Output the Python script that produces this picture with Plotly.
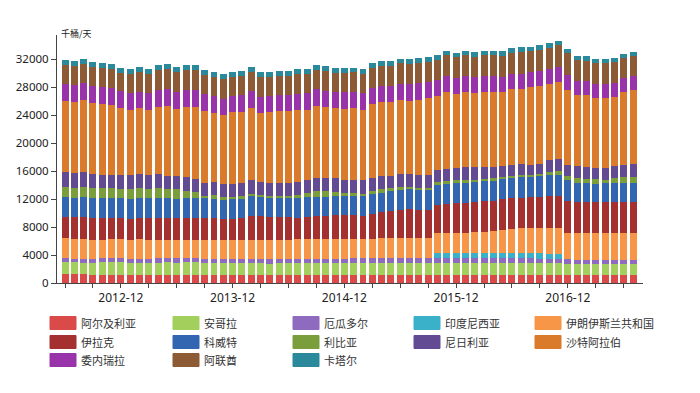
import plotly.graph_objects as go
import pandas as pd

months = [p.strftime("%Y-%m") for p in pd.period_range("2012-06", "2017-07", freq="M")]

legend_labels = ["阿尔及利亚", "安哥拉", "厄瓜多尔", "印度尼西亚", "伊朗伊斯兰共和国",
                 "伊拉克", "科威特", "利比亚", "尼日利亚", "沙特阿拉伯",
                 "委内瑞拉", "阿联酋", "卡塔尔"]
colors = ["#d94a48", "#a3cf5c", "#8e6bbf", "#3bb0c9", "#f79646", "#a4302f", "#3366b0",
          "#7a9e3c", "#634b94", "#d97b2b", "#9933aa", "#8c5a35", "#2a8a9c"]

algeria = [1230,1220,1220,1210,1210,1200,1200,1190,1190,1200,1200,1200,
           1200,1200,1190,1180,1170,1180,1190,1190,1180,1180,1170,1170,
           1170,1170,1180,1180,1180,1170,1170,1160,1160,1150,1150,1150,
           1150,1160,1160,1150,1160,1160,1160,1150,1150,1140,1140,1140,
           1140,1150,1150,1150,1150,1150,1140,1110,1100,1100,1110,1110,1110,1110]
angola = [1750,1720,1700,1690,1730,1760,1760,1740,1730,1700,1730,1740,
          1730,1740,1750,1740,1730,1720,1700,1660,1640,1610,1600,1620,
          1650,1680,1690,1680,1700,1700,1680,1740,1750,1760,1760,1770,
          1780,1770,1760,1770,1760,1760,1750,1760,1770,1780,1770,1770,
          1760,1750,1770,1740,1730,1650,1640,1650,1630,1630,1620,1660,1660,1660]
ecuador = [560,560,560,570,570,570,570,570,570,580,580,580,
           580,580,580,580,590,590,590,590,600,600,600,600,
           610,610,610,620,620,620,620,610,610,610,610,610,
           600,600,600,600,600,600,600,600,600,600,610,610,
           610,610,610,610,610,610,600,590,590,590,590,590,590,590]
indonesia = [None]*40 + [700,710,720,720,720,720,720,720,730,730,730,720,720,720] + [None]*8
iran = [2950,2850,2850,2700,2700,2700,2700,2700,2750,2700,2700,2680,
        2650,2700,2680,2690,2710,2700,2730,2750,2780,2800,2800,2790,
        2780,2780,2780,2750,2780,2790,2800,2800,2800,2800,2850,2850,
        2850,2850,2860,2860,2870,2860,2870,2880,3000,3120,3190,3350,
        3500,3600,3630,3650,3670,3720,3710,3800,3810,3790,3780,3790,3800,3810]
iraq = [2980,3020,3110,3150,3080,3080,3070,3000,3060,3140,3150,3080,
        3070,3100,3130,3080,3040,3000,3000,3080,3450,3350,3210,3250,
        3220,3120,3190,3300,3270,3380,3430,3350,3320,3580,3720,3860,
        4080,4140,4050,4050,4080,4220,4320,4340,4280,4300,4300,4370,
        4400,4350,4380,4450,4580,4610,4650,4470,4400,4420,4440,4460,4470,4460]
kuwait = [2830,2830,2830,2830,2830,2820,2800,2810,2820,2820,2820,2810,
          2820,2820,2830,2830,2830,2820,2820,2790,2790,2780,2790,2790,
          2800,2810,2830,2800,2790,2770,2730,2810,2810,2810,2830,2850,
          2860,2860,2850,2850,2850,2850,2860,2870,2870,2880,2880,2870,
          2880,2900,2900,2920,2930,2930,2940,2740,2720,2700,2700,2700,2710,2720]
libya = [1450,1450,1450,1440,1400,1420,1400,1380,1400,1360,1400,1380,
         1350,1000,800,400,500,250,220,400,350,250,230,220,
         230,410,560,810,840,640,480,370,350,430,530,430,
         420,400,370,370,400,400,400,390,360,360,350,330,
         330,320,310,330,540,580,630,710,680,620,550,740,820,880]
nigeria = [2150,2150,2150,2050,1900,1950,1950,2000,2000,1950,2000,1900,
           1950,2000,1880,1850,1900,1950,1950,1900,1900,1880,1900,1910,
           1900,1920,1890,1880,1890,1880,1870,1890,1880,1880,1880,1800,
           1780,1840,1830,1860,1800,1750,1810,1840,1780,1700,1680,1550,
           1500,1550,1450,1500,1620,1700,1600,1640,1620,1560,1600,1660,1700,1720]
saudi = [10120,10080,10250,10040,10180,9950,9530,9300,9460,9270,9650,9980,
         9570,10100,10390,10220,9870,9780,10200,10140,10350,9840,10120,10200,
         10180,10240,10080,10310,10090,10010,10170,10230,10090,10540,10510,10530,
         10650,10460,10750,10880,10470,11000,10540,10740,10630,10740,10720,10580,
         10840,10820,11050,11120,10880,11140,10760,10150,10270,10070,10110,9960,10460,10650]
venezuela = [2500,2500,2500,2480,2470,2460,2450,2430,2400,2400,2420,2440,
             2440,2420,2420,2400,2380,2380,2380,2380,2370,2370,2360,2360,
             2360,2360,2370,2370,2370,2360,2350,2360,2360,2360,2370,2370,
             2360,2370,2370,2360,2360,2350,2340,2320,2300,2290,2260,2240,
             2220,2180,2150,2130,2120,2110,2080,2050,2020,2010,1990,1980,1960,1950]
uae = [2650,2650,2650,2670,2660,2640,2640,2720,2750,2750,2750,2760,
       2760,2740,2760,2780,2780,2760,2720,2720,2730,2760,2740,2750,
       2760,2760,2770,2770,2760,2770,2790,2790,2800,2840,2880,2880,
       2900,2890,2880,2880,2900,2910,2910,2930,2930,2960,2950,2950,
       3000,3070,3010,3060,3090,3090,3080,2960,2960,2920,2920,2900,2890,2900]
qatar = [730,730,730,730,730,730,720,720,720,720,720,720,
         720,720,720,720,720,720,720,720,710,710,710,710,
         710,710,710,710,700,700,700,690,680,670,670,660,
         660,660,660,660,660,660,660,660,660,660,660,660,
         660,660,660,660,650,650,650,620,620,610,610,610,610,610]

all_series = [algeria, angola, ecuador, indonesia, iran, iraq, kuwait,
              libya, nigeria, saudi, venezuela, uae, qatar]

y_ticks = [0, 4000, 8000, 12000, 16000, 20000, 24000, 28000, 32000]
x_tickvals = months[::3]
x_ticktext = [m if m.endswith("-12") else "" for m in x_tickvals]

num_font = "Noto Sans, DejaVu Sans, sans-serif"
cjk_font = "Noto Sans CJK SC, sans-serif"

fig = go.Figure()
for name, vals, col in zip(legend_labels, all_series, colors):
    fig.add_trace(go.Bar(x=months, y=vals, name=name, marker_color=col,
                         marker_line_width=0, showlegend=False))

fig.update_layout(
    width=700, height=393,
    margin=dict(l=57, r=57, t=35, b=110),
    barmode="stack", bargap=0.25,
    plot_bgcolor="white", paper_bgcolor="white",
    xaxis=dict(type="category", range=[-0.86, 62.07], automargin=False,
               tickmode="array", tickvals=x_tickvals, ticktext=x_ticktext,
               ticks="outside", ticklen=4, tickcolor="#444", tickwidth=1,
               showline=True, linecolor="#444", linewidth=1, showgrid=False,
               tickangle=0, tickfont=dict(family=num_font, size=12, color="#222")),
    yaxis=dict(range=[0, 35470], tickmode="array", tickvals=y_ticks,
               tickformat="d", automargin=False,
               ticks="outside", ticklen=5, tickcolor="#444",
               showline=True, linecolor="#444", linewidth=1, showgrid=False,
               zeroline=False,
               tickfont=dict(family=num_font, size=11.5, color="#222")),
)

fig.add_annotation(text="千桶/天", xref="paper", yref="paper", x=0.004, y=1.008,
                   xanchor="left", yanchor="middle", showarrow=False,
                   font=dict(family=cjk_font, size=9, color="#222"))

# custom legend (5 columns, row-major)
plot_l, plot_w, plot_b, plot_h = 57, 586, 283, 248
col_x = [50, 173, 293, 414, 535]
row_y = [323, 342, 360]
for k, (lab, col) in enumerate(zip(legend_labels, colors)):
    r, c = divmod(k, 5)
    x0 = col_x[c]; yc = row_y[r]
    fig.add_shape(type="rect", xref="paper", yref="paper",
                  x0=(x0 - plot_l) / plot_w, x1=(x0 + 26 - plot_l) / plot_w,
                  y0=(plot_b - (yc + 6.5)) / plot_h, y1=(plot_b - (yc - 6.5)) / plot_h,
                  fillcolor=col, line=dict(color=col, width=1))
    fig.add_annotation(text=lab, xref="paper", yref="paper",
                       x=(x0 + 29 - plot_l) / plot_w, y=(plot_b - yc) / plot_h,
                       xanchor="left", yanchor="middle", showarrow=False,
                       font=dict(family=cjk_font, size=11, color="#333"))

fig.write_html("out.html", config={"displayModeBar": False},
               post_script="document.body.style.margin='0';document.body.style.padding='0';")
